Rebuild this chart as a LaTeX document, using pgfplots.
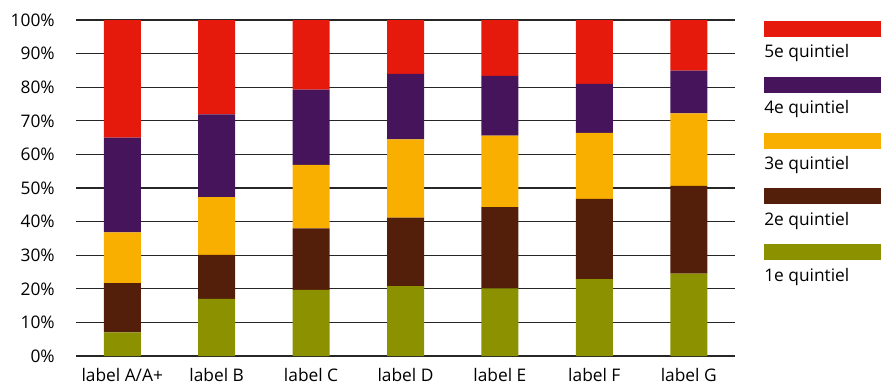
\documentclass[border=0pt]{standalone}
\usepackage{pgfplots}
\pgfplotsset{compat=1.18}
\usepackage{fontspec}
\setmainfont{Open Sans}
\definecolor{q5}{HTML}{E51A0C}
\definecolor{q4}{HTML}{45145A}
\definecolor{q3}{HTML}{F9AF00}
\definecolor{q2}{HTML}{541F0A}
\definecolor{q1}{HTML}{8C9100}
\begin{document}
\begin{tikzpicture}[font=\fontsize{13}{15}\selectfont]
\begin{axis}[
  at={(57pt,-267pt)}, anchor=south west,
  scale only axis, width=494.25pt, height=252pt,
  ybar stacked, bar width=27.75pt,
  xmin=-0.49, xmax=6.49, ymin=0, ymax=100,
  ytick={0,10,...,100},
  xtick={0,1,2,3,4,5,6},
  xticklabels={label A/A+,label B,label C,label D,label E,label F,label G},
  ymajorgrids,
  grid style={black!85, line width=0.9pt},
  axis line style={draw=none},
  major tick length=0pt,
  tick style={draw=none},
  /pgf/number format/assume math mode=true,
  yticklabel={\pgfmathprintnumber{\tick}\%},
  yticklabel style={anchor=east, inner sep=0pt, xshift=-15.75pt},
  xticklabel style={anchor=base, inner sep=0pt, yshift=-18.9pt},
  tick label style={font=\fontsize{13}{15}\selectfont},
]
\addplot[fill=q1, draw=none] coordinates {(0,7.0) (1,17.0) (2,19.7) (3,20.8) (4,20.1) (5,22.9) (6,24.5)};
\addplot[fill=q2, draw=none] coordinates {(0,14.7) (1,13.1) (2,18.3) (3,20.4) (4,24.2) (5,23.9) (6,26.1)};
\addplot[fill=q3, draw=none] coordinates {(0,15.1) (1,17.2) (2,18.9) (3,23.3) (4,21.3) (5,19.6) (6,21.6)};
\addplot[fill=q4, draw=none] coordinates {(0,28.2) (1,24.6) (2,22.4) (3,19.5) (4,17.8) (5,14.6) (6,12.7)};
\addplot[fill=q5, draw=none] coordinates {(0,35.0) (1,28.1) (2,20.7) (3,16.0) (4,16.6) (5,19.0) (6,15.1)};
\end{axis}
\begin{scope}[x=0.75pt, y=-0.75pt]
\fill[q5] (764,21) rectangle (881,37);
\node[anchor=base west, inner sep=0pt] at (764,58) {5e quintiel};
\fill[q4] (764,76.75) rectangle (881,92.75);
\node[anchor=base west, inner sep=0pt] at (764,113.75) {4e quintiel};
\fill[q3] (764,132.5) rectangle (881,148.5);
\node[anchor=base west, inner sep=0pt] at (764,169.5) {3e quintiel};
\fill[q2] (764,188.25) rectangle (881,204.25);
\node[anchor=base west, inner sep=0pt] at (764,225.25) {2e quintiel};
\fill[q1] (764,244) rectangle (881,260);
\node[anchor=base west, inner sep=0pt] at (764,281) {1e quintiel};
\end{scope}
\pgfresetboundingbox
\path (0,0) rectangle (660.75pt,-288.75pt);
\end{tikzpicture}
\end{document}
